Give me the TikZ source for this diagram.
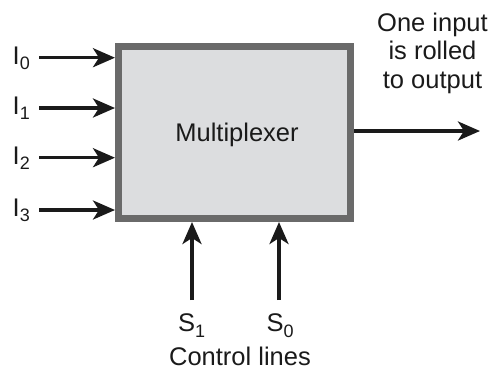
\documentclass[tikz,border=0pt]{standalone}
\usepackage{fontspec}
\setmainfont{Liberation Sans}
\usetikzlibrary{arrows.meta}
\definecolor{bordergray}{HTML}{6A6A6A}
\definecolor{boxgray}{HTML}{DCDDDF}
\definecolor{inkcol}{HTML}{1A1A1A}
\tikzset{
  arr/.style={line width=3.5pt, draw=inkcol, -{Stealth[length=22pt,width=19pt,inset=6pt]}},
  lbl/.style={inner sep=0pt, anchor=base west, font=\fontsize{25.5}{28.5}\selectfont, text=inkcol}
}
\newcommand{\subsc}[1]{\raisebox{-5.5pt}{\fontsize{18}{18}\selectfont #1}}
\begin{document}
\begin{tikzpicture}[x=1pt,y=-1pt]
\useasboundingbox (0,0) rectangle (500,376);
% box
\node[draw=bordergray, line width=7pt, fill=boxgray, minimum width=232pt, minimum height=172pt, inner sep=0pt] (mux) at (234.5,132.5) {};
\node[lbl, anchor=base] (muxtxt) at (237,141.7) {Multiplexer};
% inputs
\foreach \i/\y in {0/57.7,1/108,2/157.7,3/210}{
  \node[lbl] (I\i) at (12.5,\y+6.3) {I\subsc{\i}};
  \coordinate (a\i) at (39,\y);
  \draw[arr] (a\i) -- (a\i -| mux.west);
}
% output
\coordinate (outend) at (480,131);
\draw[arr] (outend -| mux.east) -- (outend);
\node[lbl, anchor=base, align=center] (outtxt) at (432.5,88) {One input\\is rolled\\to output};
% controls
\coordinate (c1) at (192,300);
\coordinate (c0) at (279,300);
\draw[arr] (c1) -- (c1 |- mux.south);
\draw[arr] (c0) -- (c0 |- mux.south);
\node[lbl] (S1) at (178,331.7) {S\subsc{1}};
\node[lbl] (S0) at (266.5,331.7) {S\subsc{0}};
\node[lbl, anchor=base] (ctl) at (240,365) {Control lines};
\end{tikzpicture}
\end{document}
